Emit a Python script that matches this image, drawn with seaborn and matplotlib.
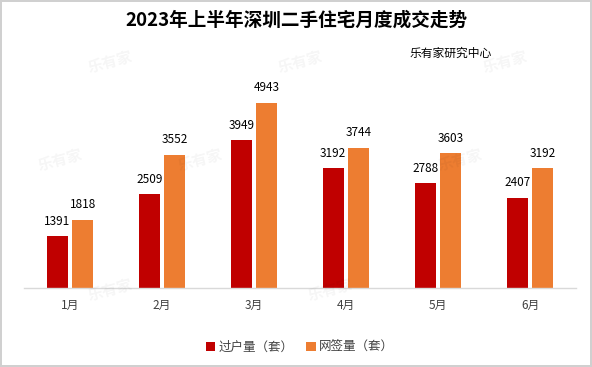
import matplotlib
matplotlib.use("Agg")
import matplotlib.pyplot as plt
import seaborn as sns
import pandas as pd

months = ["1月", "2月", "3月", "4月", "5月", "6月"]
transfer = [1391, 2509, 3949, 3192, 2788, 2407]
signed = [1818, 3552, 4943, 3744, 3603, 3192]
series_names = ["过户量（套）", "网签量（套）"]
colors = ["#C00000", "#ED7D31"]

sns.set_theme(style="white")
plt.rcParams['font.family'] = ['Noto Sans CJK SC', 'DejaVu Sans']

df = pd.DataFrame({
    "月份": months * 2,
    "套数": transfer + signed,
    "类型": [series_names[0]] * 6 + [series_names[1]] * 6,
})

fig = plt.figure(figsize=(5.92, 3.67), dpi=100)
ax = fig.add_axes([24 / 592, (367 - 288) / 367, 552 / 592, 225 / 367])
sns.barplot(data=df, x="月份", y="套数", hue="类型", palette=colors,
            saturation=1, linewidth=0, width=0.554, gap=0.176, ax=ax, legend=True)
ax.set_ylim(0, 6000)
ax.set_xlim(-0.5, 5.5)
ax.set_xlabel("")
ax.set_ylabel("")
ax.set_yticks([])
for s in ["top", "left", "right"]:
    ax.spines[s].set_visible(False)
ax.spines["bottom"].set_color("#D9D9D9")
ax.spines["bottom"].set_linewidth(1)
ax.tick_params(axis="x", length=0, labelsize=8.5, colors="#404040", pad=8)
for cont in ax.containers:
    ax.bar_label(cont, fmt="%d", padding=6, fontsize=8.5, color="#000000")

leg = ax.legend(loc="center", bbox_to_anchor=(0.5, -(347 - 288) / 225), ncol=2,
                frameon=False, fontsize=9, handlelength=0.75, handleheight=0.75,
                handletextpad=0.3, columnspacing=1.0)
for t in leg.get_texts():
    t.set_color("#404040")

fig.text(0.5, 1 - 20 / 367, "2023年上半年深圳二手住宅月度成交走势", ha="center", va="center",
         fontsize=13.4, fontweight="bold", color="#000000")
fig.text(492 / 592, 1 - 53 / 367, "乐有家研究中心", ha="right", va="center",
         fontsize=8.5, color="#000000")

# faint watermarks
for (x, y) in [(110, 62), (300, 62), (505, 62), (60, 160), (200, 160), (460, 160), (110, 290), (330, 290)]:
    fig.text(x / 592, 1 - y / 367, "乐有家", ha="center", va="center", fontsize=11,
             fontweight="bold", color="#000000", alpha=0.04, rotation=15)

fig.patch.set_edgecolor("#D0D0D0")
fig.patch.set_linewidth(1.5)
fig.savefig("out.png", dpi=100, edgecolor=fig.get_edgecolor())
